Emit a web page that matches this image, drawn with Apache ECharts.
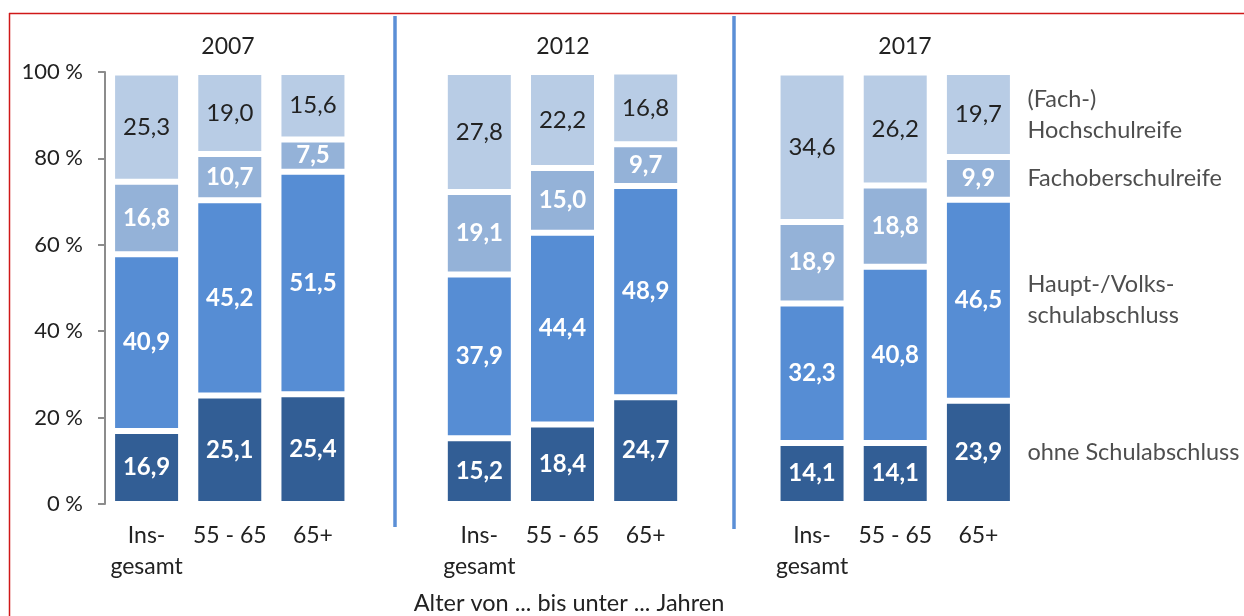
<!DOCTYPE html>
<html>
<head>
<meta charset="utf-8">
<script src="https://cdn.jsdelivr.net/npm/echarts@6/dist/echarts.min.js"></script>
<style>
html,body{margin:0;padding:0;background:#fff;}
#chart{width:1244px;height:616px;}
</style>
</head>
<body>
<div id="chart"></div>
<script>
// ---- data ----
const years = ['2007', '2012', '2017'];
const ageGroups = ['Ins-\ngesamt', '55 - 65', '65+'];
const yTicks = [0, 20, 40, 60, 80, 100];
const seriesNames = ['ohne Schulabschluss', 'Haupt-/Volks-\nschulabschluss', 'Fachoberschulreife', '(Fach-)\nHochschulreife'];
// values per series: 2007 (Ins, 55-65, 65+), 2012 (...), 2017 (...)
const ohneSchulabschluss = [16.9, 25.1, 25.4, 15.2, 18.4, 24.7, 14.1, 14.1, 23.9];
const hauptVolksschule   = [40.9, 45.2, 51.5, 37.9, 44.4, 48.9, 32.3, 40.8, 46.5];
const fachoberschulreife = [16.8, 10.7, 7.5, 19.1, 15.0, 9.7, 18.9, 18.8, 9.9];
const hochschulreife     = [25.3, 19.0, 15.6, 27.8, 22.2, 16.8, 34.6, 26.2, 19.7];
const axisTitle = 'Alter von ... bis unter ... Jahren';

const colors = ['#325e95', '#568dd4', '#94b2d8', '#b8cce5'];
const FONT = 'Lato';
const TEXT = '#222222';

// build categories with gap slots between year groups
const categories = [];
years.forEach((y, i) => {
  ageGroups.forEach(a => categories.push(a));
  if (i < years.length - 1) categories.push('');
});
function withGaps(arr) {
  const out = [];
  years.forEach((y, i) => {
    for (let j = 0; j < ageGroups.length; j++) out.push(arr[i * ageGroups.length + j]);
    if (i < years.length - 1) out.push('-');
  });
  return out;
}
const allSeries = [ohneSchulabschluss, hauptVolksschule, fachoberschulreife, hochschulreife];
const fmt = v => Number(v).toFixed(1).replace('.', ',');

const series = allSeries.map((arr, k) => ({
  name: seriesNames[k],
  type: 'bar',
  stack: 'total',
  barWidth: 69,
  data: withGaps(arr),
  itemStyle: { color: colors[k], borderColor: '#ffffff', borderWidth: 3 },
  label: {
    show: true,
    position: 'inside',
    formatter: p => fmt(p.value),
    fontFamily: FONT,
    fontSize: 24,
    fontWeight: k === 3 ? 'normal' : 'bold',
    color: k === 3 ? TEXT : '#ffffff'
  },
  animation: false
}));

// legend-like labels beside the last bar, at segment centres
const lastIdx = categories.length - 1;
let cum = 0;
const legendPts = allSeries.map((arr, k) => {
  const v = arr[arr.length - 1];
  const c = cum + v / 2;
  cum += v;
  return { value: [lastIdx, c], name: seriesNames[k] };
});
series.push({
  type: 'scatter',
  symbolSize: 0,
  data: legendPts,
  label: {
    show: true,
    position: 'right',
    distance: 49,
    formatter: p => p.name,
    fontFamily: FONT,
    fontSize: 23.5,
    lineHeight: 31,
    color: TEXT,
    align: 'left'
  },
  silent: true,
  animation: false
});

const chart = echarts.init(document.getElementById('chart'), null, { renderer: 'canvas' });
chart.setOption({
  backgroundColor: '#ffffff',
  animation: false,
  grid: { left: 105, top: 72, width: 915, height: 432, containLabel: false },
  xAxis: {
    type: 'category',
    data: categories,
    axisLine: { show: false },
    axisTick: { show: false },
    axisLabel: {
      interval: 0,
      margin: 16,
      fontFamily: FONT,
      fontSize: 23,
      lineHeight: 31,
      color: TEXT
    }
  },
  yAxis: {
    type: 'value',
    min: yTicks[0],
    max: yTicks[yTicks.length - 1],
    interval: yTicks[1] - yTicks[0],
    splitLine: { show: false },
    axisLine: { show: true, lineStyle: { color: '#8c8c8c', width: 2 } },
    axisTick: { show: true, length: 7, lineStyle: { color: '#8c8c8c', width: 2 } },
    axisLabel: {
      formatter: '{value} %',
      margin: 22,
      fontFamily: FONT,
      fontSize: 22,
      color: TEXT
    }
  },
  series: series,
  graphic: [
    // red frame (top and left edges)
    { type: 'line', shape: { x1: 9, y1: 13.5, x2: 1244, y2: 13.5 }, style: { stroke: '#d01818', lineWidth: 1.5 } },
    { type: 'line', shape: { x1: 9.5, y1: 13, x2: 9.5, y2: 616 }, style: { stroke: '#d01818', lineWidth: 1.5 } },
    // group separators
    { type: 'line', shape: { x1: 395, y1: 16, x2: 395, y2: 527 }, style: { stroke: '#5b8fd6', lineWidth: 3.5 } },
    { type: 'line', shape: { x1: 734, y1: 16, x2: 734, y2: 529 }, style: { stroke: '#5b8fd6', lineWidth: 3.5 } },
    // year titles
    { type: 'text', x: 228, y: 47, style: { text: years[0], font: '23px ' + FONT, fill: TEXT, textAlign: 'center', textVerticalAlign: 'middle' } },
    { type: 'text', x: 563, y: 47, style: { text: years[1], font: '23px ' + FONT, fill: TEXT, textAlign: 'center', textVerticalAlign: 'middle' } },
    { type: 'text', x: 905, y: 47, style: { text: years[2], font: '23px ' + FONT, fill: TEXT, textAlign: 'center', textVerticalAlign: 'middle' } },
    // axis title
    { type: 'text', x: 569, y: 603, style: { text: axisTitle, font: '23.5px ' + FONT, fill: TEXT, textAlign: 'center', textVerticalAlign: 'middle' } }
  ]
});
</script>
</body>
</html>
